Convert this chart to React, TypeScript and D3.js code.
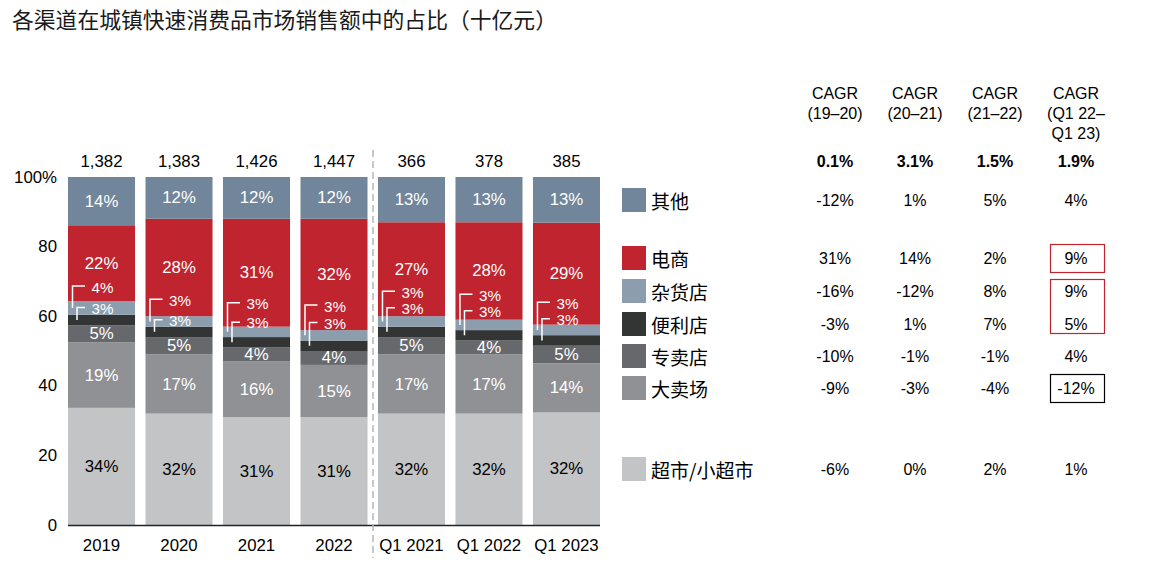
import React from 'react';
import * as d3 from 'd3';

// ---- data ----
const categories = ['2019', '2020', '2021', '2022', 'Q1 2021', 'Q1 2022', 'Q1 2023'];
const totals = ['1,382', '1,383', '1,426', '1,447', '366', '378', '385'];

// shares per channel (%), stacked bottom to top
const supermarket = [34, 32, 31, 31, 32, 32, 32];
const hypermarket = [19, 17, 16, 15, 17, 17, 14];
const specialty = [5, 5, 4, 4, 5, 4, 5];
const convenience = [3, 3, 3, 3, 3, 3, 3];
const grocery = [4, 3, 3, 3, 3, 3, 3];
const ecommerce = [22, 28, 31, 32, 27, 28, 29];
const others = [14, 12, 12, 12, 13, 13, 13];

const channelKeys = ['supermarket', 'hypermarket', 'specialty', 'convenience', 'grocery', 'ecommerce', 'others'];
const channelNames = ['超市/小超市', '大卖场', '专卖店', '便利店', '杂货店', '电商', '其他'];
const channelColors = ['#c3c4c6', '#909195', '#67686c', '#333535', '#8c9eae', '#c0242e', '#71869a'];
const channelLabelColors = ['#000', '#fff', '#fff', '#fff', '#fff', '#fff', '#fff'];

const yTicks = [0, 20, 40, 60, 80, 100];

// CAGR table
const cagrHeaders = [['CAGR', '(19–20)'], ['CAGR', '(20–21)'], ['CAGR', '(21–22)'], ['CAGR', '(Q1 22–', 'Q1 23)']];
const cagrTotals = ['0.1%', '3.1%', '1.5%', '1.9%'];
// rows follow channelKeys order
const cagrSupermarket = ['-6%', '0%', '2%', '1%'];
const cagrHypermarket = ['-9%', '-3%', '-4%', '-12%'];
const cagrSpecialty = ['-10%', '-1%', '-1%', '4%'];
const cagrConvenience = ['-3%', '1%', '7%', '5%'];
const cagrGrocery = ['-16%', '-12%', '8%', '9%'];
const cagrEcommerce = ['31%', '14%', '2%', '9%'];
const cagrOthers = ['-12%', '1%', '5%', '4%'];

const seriesByKey: Record<string, number[]> = {
  supermarket, hypermarket, specialty, convenience, grocery, ecommerce, others,
};
const cagrByKey: Record<string, string[]> = {
  supermarket: cagrSupermarket,
  hypermarket: cagrHypermarket,
  specialty: cagrSpecialty,
  convenience: cagrConvenience,
  grocery: cagrGrocery,
  ecommerce: cagrEcommerce,
  others: cagrOthers,
};

// ---- layout ----
const W = 1165;
const H = 570;
const FONT = "'Liberation Sans', Arial, 'Noto Sans CJK SC', sans-serif";
const CJK = "'Noto Sans CJK SC', 'Liberation Sans', sans-serif";
const FS = 16.8; // chart text size
const CFS = 15.2; // callout text size
const TFS = 16; // table text size

// legend row centres, top to bottom (others ... supermarket)
const legendRowY = [200, 258, 291, 324, 356, 388, 469];
const cagrColX = [835, 915, 995, 1076];

// callout label placement for the two thin segments (grocery / convenience)
const calloutShift = [7, 4, -4, -7, -8, -8.5, -5.5];
const calloutGap = [21, 20, 19, 17, 16, 16, 16];

export default function App() {
  const x = d3.scaleBand<string>().domain(categories).range([68, 600]).paddingInner(0.135).paddingOuter(0);
  const y = d3.scaleLinear().domain([0, 100]).range([525, 177]);

  const rows = categories.map((c, i) => {
    const r: any = { cat: c };
    let sum = 0;
    channelKeys.forEach((k) => (sum += seriesByKey[k][i]));
    channelKeys.forEach((k) => (r[k] = (seriesByKey[k][i] / sum) * 100));
    return r;
  });
  const stacked = d3.stack<any>().keys(channelKeys)(rows);

  const bw = x.bandwidth();

  return (
    <svg width={W} height={H} style={{ display: 'block', position: 'absolute', left: 0, top: 0 }} fontFamily={FONT}>
      <rect width={W} height={H} fill="#fff" />
      <text x={12} y={28} fontFamily={CJK} fontSize={21.8} fill="#1a1a1a">
        各渠道在城镇快速消费品市场销售额中的占比（十亿元）
      </text>

      {/* y ticks */}
      {yTicks.map((t) => (
        <text key={t} x={57} y={y(t)} textAnchor="end" dominantBaseline="central" fontSize={FS} fill="#000">
          {t === 100 ? '100%' : t}
        </text>
      ))}

      {/* bars */}
      {stacked.map((s, si) => (
        <g key={s.key}>
          {s.map((d, i) => (
            <rect
              key={i}
              x={x(categories[i])}
              y={y(d[1])}
              width={bw}
              height={y(d[0]) - y(d[1])}
              fill={channelColors[si]}
            />
          ))}
        </g>
      ))}

      {/* segment labels */}
      {stacked.map((s, si) => {
        const key = s.key;
        if (key === 'grocery' || key === 'convenience') return null;
        return (
          <g key={'l' + key}>
            {s.map((d, i) => (
              <text
                key={i}
                x={(x(categories[i]) as number) + bw / 2}
                y={(y(d[0]) + y(d[1])) / 2}
                textAnchor="middle"
                dominantBaseline="central"
                fontSize={FS}
                fill={channelLabelColors[si]}
              >
                {seriesByKey[key][i]}%
              </text>
            ))}
          </g>
        );
      })}

      {/* callouts for grocery and convenience */}
      {categories.map((c, i) => {
        const gs = stacked[channelKeys.indexOf('grocery')][i];
        const cs = stacked[channelKeys.indexOf('convenience')][i];
        const left = x(c) as number;
        const cx = left + bw / 2;
        const gTop = y(gs[1]);
        const l2 = gTop + calloutShift[i];
        const l1 = l2 - calloutGap[i];
        const gMid = (y(gs[0]) + y(gs[1])) / 2;
        const cMid = (y(cs[0]) + y(cs[1])) / 2;
        return (
          <g key={'c' + c}>
            <path
              d={`M${left + 17},${l1 - 1}H${left + 4.5}V${gMid}`}
              fill="none"
              stroke="#fff"
              strokeWidth={1.5}
            />
            <path
              d={`M${left + 17},${l2 - 0.5}H${left + 9}V${cMid}`}
              fill="none"
              stroke="#fff"
              strokeWidth={1.5}
            />
            <text x={cx + 1} y={l1} textAnchor="middle" dominantBaseline="central" fontSize={CFS} fill="#fff">
              {grocery[i]}%
            </text>
            <text x={cx + 1} y={l2} textAnchor="middle" dominantBaseline="central" fontSize={CFS} fill="#fff">
              {convenience[i]}%
            </text>
          </g>
        );
      })}

      {/* totals above bars */}
      {categories.map((c, i) => (
        <text key={'t' + c} x={(x(c) as number) + bw / 2} y={161} textAnchor="middle" dominantBaseline="central" fontSize={FS} fill="#000">
          {totals[i]}
        </text>
      ))}

      {/* baseline */}
      <line x1={68} x2={600} y1={y(0) + 0.5} y2={y(0) + 0.5} stroke="#222" strokeWidth={1.5} />

      {/* divider between annual and quarterly */}
      <line x1={373} x2={373} y1={150} y2={558} stroke="#b5b5b5" strokeWidth={1.5} strokeDasharray="7,4" />

      {/* x labels */}
      {categories.map((c) => (
        <text key={'x' + c} x={(x(c) as number) + bw / 2} y={545} textAnchor="middle" dominantBaseline="central" fontSize={FS} fill="#000">
          {c}
        </text>
      ))}

      {/* CAGR headers */}
      {cagrHeaders.map((lines, ci) => (
        <text key={'h' + ci} textAnchor="middle" fontSize={TFS} fill="#000">
          {lines.map((ln, li) => (
            <tspan key={li} x={cagrColX[ci]} y={93 + li * 20} dominantBaseline="central">
              {ln}
            </tspan>
          ))}
        </text>
      ))}
      {cagrTotals.map((t, ci) => (
        <text key={'ct' + ci} x={cagrColX[ci]} y={161} textAnchor="middle" dominantBaseline="central" fontSize={TFS} fontWeight="bold" fill="#000">
          {t}
        </text>
      ))}

      {/* legend + CAGR rows (top to bottom) */}
      {channelKeys
        .map((k, idx) => ({ k, idx }))
        .reverse()
        .map(({ k, idx }, row) => {
          const cy = legendRowY[row];
          return (
            <g key={'lg' + k}>
              <rect x={622} y={cy - 12} width={24} height={24} fill={channelColors[idx]} />
              <text x={651} y={cy} dominantBaseline="central" fontFamily={CJK} fontSize={19} fill="#000">
                {channelNames[idx]}
              </text>
              {cagrByKey[k].map((v, ci) => (
                <text key={ci} x={cagrColX[ci]} y={cy} textAnchor="middle" dominantBaseline="central" fontSize={TFS} fill="#000">
                  {v}
                </text>
              ))}
            </g>
          );
        })}

      {/* highlight boxes */}
      <rect x={1050.5} y={244.5} width={54} height={28} fill="none" stroke="#c0242e" strokeWidth={1.2} />
      <rect x={1050.5} y={279.5} width={54} height={54} fill="none" stroke="#c0242e" strokeWidth={1.2} />
      <rect x={1050.5} y={374.5} width={54} height={28} fill="none" stroke="#000" strokeWidth={1.2} />
    </svg>
  );
}
